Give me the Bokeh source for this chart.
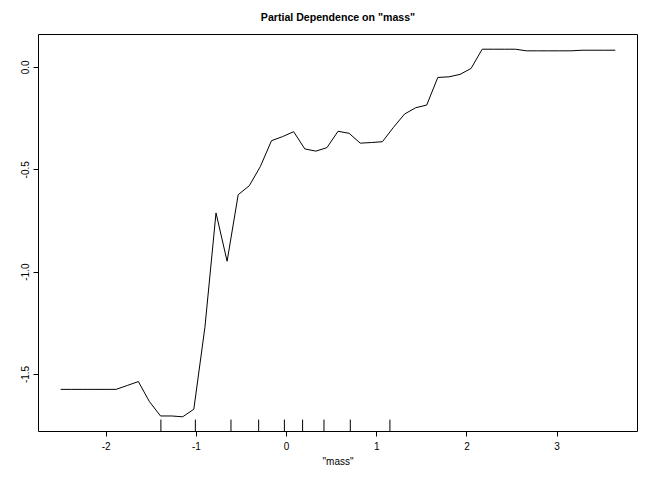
from bokeh.plotting import figure
from bokeh.models import Range1d, FixedTicker, NumeralTickFormatter
from bokeh.embed import file_html
from bokeh.resources import INLINE

# Partial dependence grid (standardized mass) and predicted values
mass_grid = [-2.504, -2.381, -2.258, -2.135, -2.012, -1.889, -1.766, -1.643, -1.520, -1.397,
             -1.274, -1.151, -1.028, -0.905, -0.782, -0.659, -0.536, -0.413, -0.290, -0.167,
             -0.044, 0.079, 0.202, 0.325, 0.448, 0.571, 0.694, 0.817, 0.940, 1.063,
             1.185, 1.308, 1.431, 1.554, 1.677, 1.800, 1.923, 2.046, 2.169, 2.292,
             2.415, 2.538, 2.661, 2.784, 2.907, 3.030, 3.153, 3.276, 3.399, 3.522, 3.645]
partial_dep = [-1.573, -1.573, -1.573, -1.573, -1.573, -1.573, -1.554, -1.535, -1.633, -1.703,
               -1.703, -1.707, -1.670, -1.270, -0.711, -0.947, -0.622, -0.578, -0.484, -0.358,
               -0.338, -0.314, -0.398, -0.409, -0.392, -0.312, -0.322, -0.370, -0.367, -0.363,
               -0.293, -0.228, -0.197, -0.184, -0.049, -0.046, -0.034, -0.005, 0.089, 0.089,
               0.089, 0.089, 0.081, 0.081, 0.081, 0.081, 0.081, 0.084, 0.084, 0.084, 0.084]
# Deciles of mass (rug)
rug_deciles = [-1.393, -1.011, -0.616, -0.309, -0.024, 0.178, 0.415, 0.707, 1.146]

x_ticks = [-2, -1, 0, 1, 2, 3]
y_ticks = [-1.5, -1.0, -0.5, 0.0]

title_text = 'Partial Dependence on "mass"'
x_label = '"mass"'

FONT = "Liberation Sans"

xmin, xmax = min(mass_grid), max(mass_grid)
ymin, ymax = min(partial_dep), max(partial_dep)
xpad = 0.04 * (xmax - xmin)
ypad = 0.04 * (ymax - ymin)
x0, x1 = xmin - xpad, xmax + xpad
y0, y1 = ymin - ypad, ymax + ypad

p = figure(frame_width=599, frame_height=397,
           x_range=Range1d(x0, x1),
           y_range=Range1d(y0, y1),
           output_backend="svg", toolbar_location=None,
           min_border_left=38, min_border_right=5, min_border_top=34, min_border_bottom=38)

p.background_fill_color = "white"
p.border_fill_color = "white"
p.outline_line_color = "black"
p.outline_line_width = 1
p.xgrid.visible = False
p.ygrid.visible = False

p.title.text = title_text
p.title.align = "center"
p.title.vertical_align = "top"
p.title.text_font = FONT
p.title.text_font_size = "10.6px"
p.title.text_font_style = "bold"
p.title.text_color = "black"
p.title.standoff = 20

for ax in (p.xaxis[0], p.yaxis[0]):
    ax.axis_line_color = None
    ax.major_tick_in = 0
    ax.major_tick_out = 5
    ax.major_tick_line_color = "black"
    ax.minor_tick_line_color = None
    ax.major_label_text_font = FONT
    ax.major_label_text_font_size = "10px"
    ax.major_label_text_color = "black"

p.xaxis.ticker = FixedTicker(ticks=x_ticks)
p.xaxis.formatter = NumeralTickFormatter(format="0")
p.xaxis.major_label_standoff = 5
p.xaxis.axis_label = x_label
p.xaxis.axis_label_text_font = FONT
p.xaxis.axis_label_text_font_size = "10px"
p.xaxis.axis_label_text_font_style = "normal"
p.xaxis.axis_label_text_color = "black"
p.xaxis.axis_label_standoff = 3

p.yaxis.ticker = FixedTicker(ticks=y_ticks)
p.yaxis.formatter = NumeralTickFormatter(format="0.0")
p.yaxis.major_label_orientation = "vertical"
p.yaxis.major_label_standoff = 4

p.line(mass_grid, partial_dep, line_color="black", line_width=1)

rug_len = 0.03 * (y1 - y0)
p.segment(x0=rug_deciles, y0=[y0] * len(rug_deciles),
          x1=rug_deciles, y1=[y0 + rug_len] * len(rug_deciles),
          line_color="black", line_width=1)

open("out.html", "w").write(file_html(p, INLINE))
